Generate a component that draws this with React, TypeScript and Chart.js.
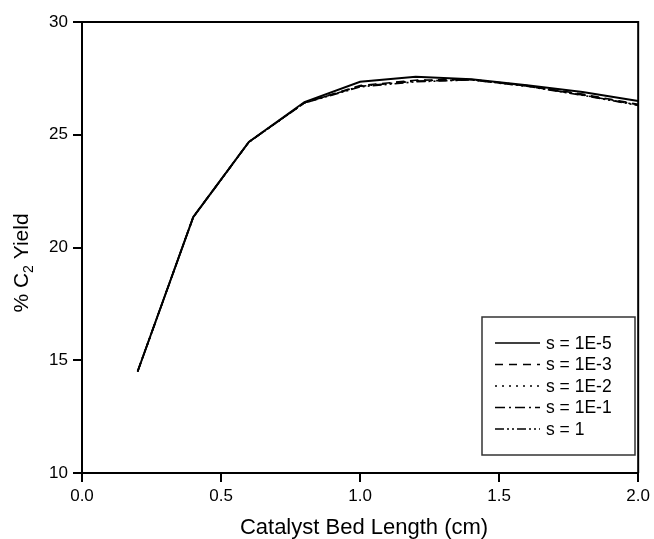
import React, { useEffect, useRef } from "react";
import { Chart, registerables } from "chart.js";

Chart.register(...registerables);

const bedLength = [0.2, 0.4, 0.6, 0.8, 1.0, 1.2, 1.4, 1.6, 1.8, 2.0];
const yieldS1e5 = [14.5, 21.35, 24.68, 26.45, 27.35, 27.57, 27.46, 27.2, 26.9, 26.5];
const yieldS1e3 = [14.5, 21.35, 24.68, 26.42, 27.18, 27.42, 27.45, 27.18, 26.8, 26.35];
const yieldS1e2 = [14.5, 21.35, 24.68, 26.42, 27.16, 27.4, 27.45, 27.17, 26.78, 26.33];
const yieldS1e1 = [14.5, 21.35, 24.68, 26.42, 27.15, 27.38, 27.44, 27.16, 26.76, 26.32];
const yieldS1 = [14.5, 21.34, 24.67, 26.41, 27.12, 27.35, 27.43, 27.15, 26.75, 26.3];

const seriesLabels = ["s = 1E-5", "s = 1E-3", "s = 1E-2", "s = 1E-1", "s = 1"];
const seriesValues = [yieldS1e5, yieldS1e3, yieldS1e2, yieldS1e1, yieldS1];
const seriesDashes = [[], [8, 6], [2, 5], [10, 4, 2, 4], [9, 3, 2, 3, 2, 3]];

const xTitle = "Catalyst Bed Length (cm)";
const FONT = "'Liberation Sans', Arial, Helvetica, sans-serif";

const framePlugin = {
  id: "frame",
  afterDraw(chart: any) {
    const { ctx, chartArea } = chart;
    const { left, right, top, bottom } = chartArea;
    ctx.save();
    ctx.strokeStyle = "#000";
    ctx.lineWidth = 2;
    ctx.setLineDash([]);
    ctx.beginPath();
    ctx.moveTo(left - 9, top);
    ctx.lineTo(right, top);
    ctx.lineTo(right, bottom);
    ctx.stroke();

    // x title
    ctx.fillStyle = "#000";
    ctx.font = `22px ${FONT}`;
    ctx.textAlign = "center";
    ctx.textBaseline = "middle";
    ctx.fillText(xTitle, 364, 528);

    // y title with subscript
    ctx.save();
    ctx.translate(21, 263);
    ctx.rotate(-Math.PI / 2);
    const big = `21px ${FONT}`;
    const small = `14px ${FONT}`;
    const p1 = "% C";
    const p3 = " Yield";
    ctx.font = big;
    const w1 = ctx.measureText(p1).width;
    const w3 = ctx.measureText(p3).width;
    ctx.font = small;
    const w2 = ctx.measureText("2").width;
    const total = w1 + w2 + w3;
    let x = -total / 2;
    ctx.textAlign = "left";
    ctx.textBaseline = "alphabetic";
    ctx.font = big;
    ctx.fillText(p1, x, 7);
    x += w1;
    ctx.font = small;
    ctx.fillText("2", x, 12);
    x += w2;
    ctx.font = big;
    ctx.fillText(p3, x, 7);
    ctx.restore();

    // legend
    const bx = 482, by = 317, bw = 153, bh = 138;
    ctx.lineWidth = 1.5;
    ctx.strokeStyle = "#333";
    ctx.strokeRect(bx, by, bw, bh);
    ctx.font = `17.5px ${FONT}`;
    ctx.textAlign = "left";
    ctx.textBaseline = "middle";
    seriesLabels.forEach((lab, i) => {
      const yy = 343 + i * 21.5;
      ctx.strokeStyle = "#000";
      ctx.lineWidth = 1.5;
      ctx.setLineDash(seriesDashes[i]);
      ctx.beginPath();
      ctx.moveTo(495, yy);
      ctx.lineTo(540, yy);
      ctx.stroke();
      ctx.setLineDash([]);
      ctx.fillStyle = "#000";
      ctx.fillText(lab, 546, yy + 1);
    });
    ctx.restore();
  },
};

export default function App() {
  const ref = useRef<HTMLCanvasElement | null>(null);
  useEffect(() => {
    document.body.style.margin = "0";
    const datasets = seriesLabels.map((lab, i) => ({
      label: lab,
      data: bedLength.map((x, j) => ({ x, y: seriesValues[i][j] })),
      borderColor: "#000",
      borderWidth: i === 0 ? 2 : 1.6,
      borderDash: seriesDashes[i],
      pointRadius: 0,
      tension: 0,
      fill: false,
    }));
    const chart = new Chart(ref.current as HTMLCanvasElement, {
      type: "line",
      data: { datasets: datasets.slice().reverse() },
      options: {
        animation: false,
        responsive: false,
        maintainAspectRatio: false,
        layout: { padding: { left: 0, top: 22, right: 14, bottom: 0 } },
        plugins: { legend: { display: false }, tooltip: { enabled: false } },
        scales: {
          x: {
            type: "linear",
            min: 0,
            max: 2,
            afterFit: (s: any) => { s.height = 66; },
            ticks: {
              stepSize: 0.5,
              color: "#000",
              padding: 4,
              font: { size: 17, family: FONT },
              callback: (v: any) => Number(v).toFixed(1),
            },
            grid: { drawOnChartArea: false, drawTicks: true, tickLength: 9, color: "#000", lineWidth: 2 },
            border: { display: true, color: "#000", width: 2 },
          },
          y: {
            min: 10,
            max: 30,
            afterFit: (s: any) => { s.width = 82; },
            ticks: {
              stepSize: 5,
              color: "#000",
              padding: 5,
              font: { size: 17, family: FONT },
            },
            grid: { drawOnChartArea: false, drawTicks: true, tickLength: 9, color: "#000", lineWidth: 2 },
            border: { display: true, color: "#000", width: 2 },
          },
        },
      },
      plugins: [framePlugin],
    });
    return () => chart.destroy();
  }, []);
  return (
    <div style={{ position: "absolute", left: 0, top: 0, width: 654, height: 539, background: "#fff" }}>
      <canvas ref={ref} width={654} height={539} style={{ width: 654, height: 539 }} />
    </div>
  );
}
